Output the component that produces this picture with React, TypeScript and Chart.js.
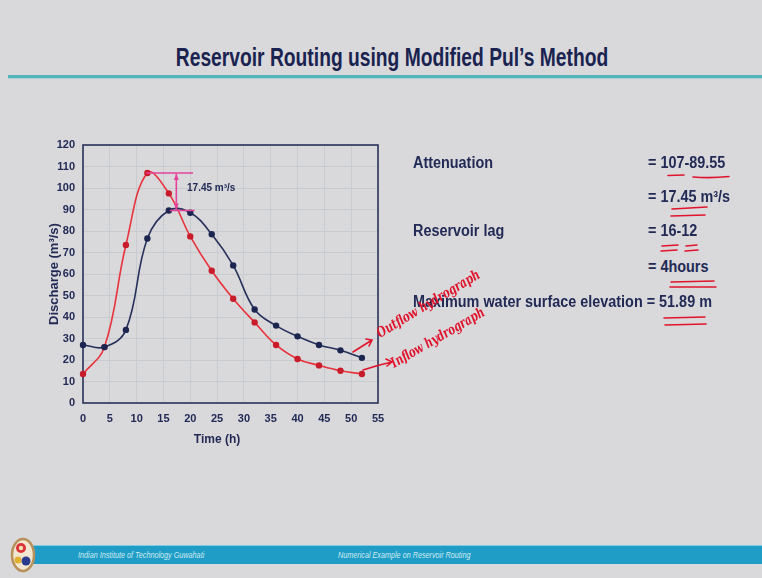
import React, { useEffect, useRef } from "react";
import { Chart, registerables } from "chart.js";

Chart.register(...registerables);

// ---- data ----
const times = [0, 4, 8, 12, 16, 20, 24, 28, 32, 36, 40, 44, 48, 52];
const inflow = [13.5, 26, 73.5, 107, 97.5, 77.5, 61.5, 48.5, 37.5, 27, 20.5, 17.5, 15, 13.5];
const outflow = [27, 26, 34, 76.5, 89.55, 88.5, 78.5, 64, 43.5, 36, 31, 27, 24.5, 21];
const peakInflow = 107;
const peakOutflow = 89.55;
const attenuationLabel = "17.45 m³/s";
const yAxisTitle = "Discharge (m³/s)";
const xAxisTitle = "Time (h)";

const slideTitle = "Reservoir Routing using Modified Pul’s Method";
const footerLeft = "Indian Institute of Technology Guwahati";
const footerRight = "Numerical Example on Reservoir Routing";

const NAVY = "#222a55";
const FONT = "'Liberation Sans', Arial, sans-serif";

const overlayPlugin = {
  id: "overlay",
  beforeDatasetsDraw(chart: any) {
    const { ctx, chartArea: a } = chart;
    ctx.save();
    ctx.strokeStyle = "#2a3158";
    ctx.lineWidth = 1.6;
    ctx.strokeRect(a.left, a.top, a.right - a.left, a.bottom - a.top);
    ctx.restore();
  },
  afterDatasetsDraw(chart: any) {
    const { ctx, chartArea: a, scales } = chart;
    const xs = scales.x;
    const ys = scales.y;
    const yTop = ys.getPixelForValue(peakInflow);
    const yBot = ys.getPixelForValue(peakOutflow);
    ctx.save();
    ctx.strokeStyle = "#e6429a";
    ctx.fillStyle = "#e6429a";
    ctx.lineWidth = 1.6;
    ctx.beginPath();
    ctx.moveTo(xs.getPixelForValue(11.8), yTop);
    ctx.lineTo(xs.getPixelForValue(20.5), yTop);
    ctx.moveTo(xs.getPixelForValue(16.2), yBot);
    ctx.lineTo(xs.getPixelForValue(20.8), yBot);
    const ax = xs.getPixelForValue(17.4);
    ctx.moveTo(ax, yTop + 1);
    ctx.lineTo(ax, yBot - 1);
    ctx.stroke();
    ctx.lineWidth = 1;
    ctx.beginPath();
    ctx.moveTo(ax, yTop + 1);
    ctx.lineTo(ax - 2.5, yTop + 7);
    ctx.lineTo(ax + 2.5, yTop + 7);
    ctx.closePath();
    ctx.fill();
    ctx.beginPath();
    ctx.moveTo(ax, yBot - 1);
    ctx.lineTo(ax - 2.5, yBot - 7);
    ctx.lineTo(ax + 2.5, yBot - 7);
    ctx.closePath();
    ctx.fill();

    ctx.fillStyle = NAVY;
    ctx.font = `bold 10px ${FONT}`;
    ctx.textAlign = "left";
    ctx.textBaseline = "middle";
    ctx.fillText(attenuationLabel, xs.getPixelForValue(19.4), ys.getPixelForValue(100));

    // axis titles
    ctx.font = `bold 12px ${FONT}`;
    ctx.textAlign = "center";
    ctx.fillText(xAxisTitle, 217, a.bottom + 37);
    ctx.save();
    ctx.translate(54, (a.top + a.bottom) / 2);
    ctx.rotate(-Math.PI / 2);
    ctx.font = `bold 13px ${FONT}`;
    ctx.fillText(yAxisTitle, 0, 0);
    ctx.restore();
    ctx.restore();
  },
};

function HydroChart() {
  const ref = useRef<HTMLCanvasElement | null>(null);
  useEffect(() => {
    if (!ref.current) return;
    const tickFont = { family: FONT, size: 11, weight: "bold" as const };
    const chart = new Chart(ref.current, {
      type: "line",
      data: {
        datasets: [
          {
            label: "Outflow",
            data: times.map((t, i) => ({ x: t, y: outflow[i] })),
            borderColor: "#26305a",
            backgroundColor: "#1c2450",
            pointBackgroundColor: "#1c2450",
            pointBorderWidth: 0,
            pointRadius: 3.2,
            borderWidth: 1.6,
            tension: 0.4,
            clip: false,
          },
          {
            label: "Inflow",
            data: times.map((t, i) => ({ x: t, y: inflow[i] })),
            borderColor: "#e8323c",
            backgroundColor: "#c81c2a",
            pointBackgroundColor: "#c81c2a",
            pointBorderWidth: 0,
            pointRadius: 3.2,
            borderWidth: 1.6,
            tension: 0.4,
            clip: false,
          },
        ],
      },
      options: {
        responsive: false,
        animation: false,
        devicePixelRatio: 1,
        layout: { padding: { top: 25, right: 122, left: 0, bottom: 0 } },
        plugins: { legend: { display: false }, tooltip: { enabled: false } },
        scales: {
          x: {
            type: "linear",
            min: 0,
            max: 55,
            ticks: { stepSize: 5, padding: 9, font: tickFont, color: NAVY },
            grid: { color: "#c8cbd0", drawTicks: false },
            border: { display: false },
            afterFit: (s: any) => {
              s.height = 77;
            },
          },
          y: {
            min: 0,
            max: 120,
            ticks: { stepSize: 10, padding: 8, font: tickFont, color: NAVY },
            grid: { color: "#c8cbd0", drawTicks: false },
            border: { display: false },
            afterFit: (s: any) => {
              s.width = 83;
            },
          },
        },
      },
      plugins: [overlayPlugin],
    });
    return () => chart.destroy();
  }, []);
  return (
    <canvas
      ref={ref}
      width={500}
      height={360}
      style={{ position: "absolute", left: 0, top: 120, width: 500, height: 360 }}
    />
  );
}

const rightText: React.CSSProperties = {
  position: "absolute",
  font: `bold 16px ${FONT}`,
  lineHeight: "16px",
  color: NAVY,
  whiteSpace: "nowrap",
  transform: "scaleX(0.9)",
  transformOrigin: "left center",
};

export default function App() {
  return (
    <div
      style={{
        position: "fixed",
        left: 0,
        top: 0,
        width: 762,
        height: 578,
        background: "#d9d9dc",
        overflow: "hidden",
        fontFamily: FONT,
      }}
    >
      <div
        style={{
          position: "absolute",
          left: 11,
          top: 45,
          width: 762,
          textAlign: "center",
          font: `bold 25px ${FONT}`,
          lineHeight: "25px",
          color: "#1a2350",
          whiteSpace: "nowrap",
          transform: "scaleX(0.77)",
          transformOrigin: "center",
        }}
      >
        {slideTitle}
      </div>
      <div style={{ position: "absolute", left: 8, top: 75, width: 754, height: 3, background: "#53b4b9" }} />
      <div style={{ position: "absolute", left: 8, top: 78, width: 754, height: 1, background: "#a9d2d4" }} />

      <HydroChart />

      <div style={{ ...rightText, left: 413, top: 155 }}>Attenuation</div>
      <div style={{ ...rightText, left: 648, top: 155 }}>= 107-89.55</div>
      <div style={{ ...rightText, left: 648, top: 189 }}>= 17.45 m³/s</div>
      <div style={{ ...rightText, left: 413, top: 223 }}>Reservoir lag</div>
      <div style={{ ...rightText, left: 648, top: 223 }}>= 16-12</div>
      <div style={{ ...rightText, left: 648, top: 259 }}>= 4hours</div>
      <div style={{ ...rightText, left: 413, top: 294 }}>Maximum water surface elevation = 51.89 m</div>

      {/* footer */}
      <div style={{ position: "absolute", left: 30, top: 545, width: 732, height: 19, background: "#1f9dc6" }} />
      <div style={{ position: "absolute", left: 30, top: 545, width: 732, height: 1, background: "#7fcde3" }} />
      <div
        style={{
          position: "absolute",
          left: 78,
          top: 550,
          font: `italic 8.5px ${FONT}`,
          lineHeight: "10px",
          color: "#cfeaf3",
          whiteSpace: "nowrap",
          transform: "scaleX(0.85)",
          transformOrigin: "left center",
        }}
      >
        {footerLeft}
      </div>
      <div
        style={{
          position: "absolute",
          left: 338,
          top: 550,
          font: `italic 8.5px ${FONT}`,
          lineHeight: "10px",
          color: "#cfeaf3",
          whiteSpace: "nowrap",
          transform: "scaleX(0.85)",
          transformOrigin: "left center",
        }}
      >
        {footerRight}
      </div>

      <svg
        width={762}
        height={578}
        style={{ position: "absolute", left: 0, top: 0, pointerEvents: "none" }}
      >
        {/* logo */}
        <ellipse cx={23} cy={555} rx={11} ry={16} fill="#f1e6cf" stroke="#b8905a" strokeWidth={2.5} />
        <circle cx={21} cy={548} r={5} fill="#d8323a" />
        <circle cx={21} cy={548} r={2.2} fill="#f4e2b0" />
        <circle cx={26} cy={561} r={4.5} fill="#2a3a8c" />
        <circle cx={18} cy={560} r={3.5} fill="#e0b030" />

        {/* handwriting */}
        <g stroke="#e0142c" strokeWidth={1.6} fill="none" strokeLinecap="round">
          <path d="M353 352 L372 340 M366 339 L372 340 L369 346" />
          <path d="M363 370 Q378 365 392 362 M386 359 L392 362 L387 366" />
          <path d="M668 175.5 L684 175" />
          <path d="M693 177 Q711 178.5 729 176.5" />
          <path d="M672 209 L707 207 M671 216 L705 215" />
          <path d="M662 246 L678 245 M661 251 L677 250" />
          <path d="M686 246 L697 245 M685 251 L698 250" />
          <path d="M671 282 L714 281 M670 287 L716 287" />
          <path d="M664 318 L705 317 M665 325 L706 324" />
        </g>
        <g fill="#e0142c" fontFamily="'DejaVu Serif', serif" fontStyle="italic" fontWeight="bold" fontSize={14}>
          <text x={380} y={338} transform="rotate(-31 380 338)" textLength={118} lengthAdjust="spacingAndGlyphs">
            Outflow hydrograph
          </text>
          <text x={394} y={368} transform="rotate(-30 394 368)" textLength={106} lengthAdjust="spacingAndGlyphs">
            Inflow hydrograph
          </text>
        </g>
      </svg>
    </div>
  );
}
